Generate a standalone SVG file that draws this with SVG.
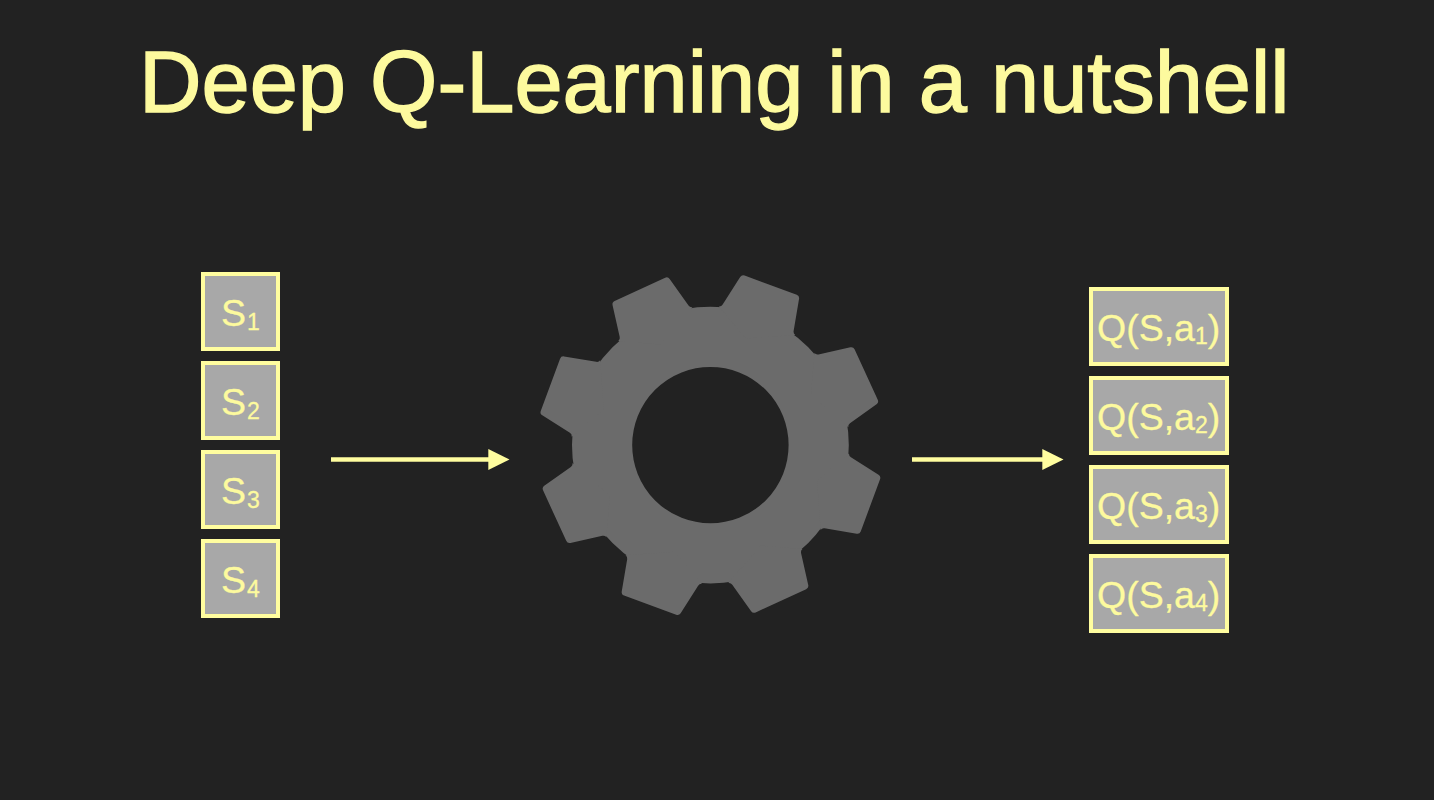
<svg xmlns="http://www.w3.org/2000/svg" width="1434" height="800" viewBox="0 0 1434 800">
<style>
text{font-family:"Liberation Sans",Arial,sans-serif;fill:#fdfa9e}
.title{font-size:86.6px;stroke:#fdfa9e;stroke-width:1.4}
.lab{font-size:37.5px;stroke:#fdfa9e;stroke-width:.3}
.sub{font-size:23px}
.box{fill:#a8a8a8;stroke:#fffd9f;stroke-width:4}
.ln{stroke:#fffd9f;stroke-width:4.5;fill:none}
.hd{fill:#fffd9f}
.g{fill:#6b6b6b}
</style>
<defs><path id="tooth" class="g" d="M-91.5 -103.4Q-89.6 -105 -90.15 -107.4L-97.25 -139.1Q-97.9 -142.05 -95.2 -143.3L-44.98 -166.35Q-42.25 -167.6 -40.5 -165.15L-21.75 -138.75Q-20.3 -136.7 -17.83 -137.07L-50 -100Z"/></defs>
<rect width="1434" height="800" fill="#222222"/>
<text id="title" class="title" x="139" y="112">Deep Q-Learning in a nutshell</text>
<g id="s1"><rect class="box" x="203" y="274" width="75" height="75"/><text class="lab" x="221" y="326">S<tspan class="sub" dx="1" dy="4">1</tspan></text></g>
<g id="s2"><rect class="box" x="203" y="363" width="75" height="75"/><text class="lab" x="221" y="415">S<tspan class="sub" dx="1" dy="4">2</tspan></text></g>
<g id="s3"><rect class="box" x="203" y="452" width="75" height="75"/><text class="lab" x="221" y="504">S<tspan class="sub" dx="1" dy="4">3</tspan></text></g>
<g id="s4"><rect class="box" x="203" y="541" width="75" height="75"/><text class="lab" x="221" y="593">S<tspan class="sub" dx="1" dy="4">4</tspan></text></g>
<g id="gear" transform="translate(710.4 445.1)">
<circle cx="0" cy="0" r="108.3" fill="none" stroke="#6b6b6b" stroke-width="60.2"/>
<g transform="scale(1.006)">
<use href="#tooth"/>
<use href="#tooth" transform="rotate(45)"/>
<use href="#tooth" transform="rotate(90)"/>
<use href="#tooth" transform="rotate(135)"/>
<use href="#tooth" transform="rotate(180)"/>
<use href="#tooth" transform="rotate(225)"/>
<use href="#tooth" transform="rotate(270)"/>
<use href="#tooth" transform="rotate(315)"/>
</g>
</g>
<g id="q1"><rect class="box" x="1091" y="289" width="136" height="75"/><text class="lab" x="1097" y="341">Q(S,a<tspan class="sub" dy="3">1</tspan><tspan dy="-3">)</tspan></text></g>
<g id="q2"><rect class="box" x="1091" y="378" width="136" height="75"/><text class="lab" x="1097" y="430">Q(S,a<tspan class="sub" dy="3">2</tspan><tspan dy="-3">)</tspan></text></g>
<g id="q3"><rect class="box" x="1091" y="467" width="136" height="75"/><text class="lab" x="1097" y="519">Q(S,a<tspan class="sub" dy="3">3</tspan><tspan dy="-3">)</tspan></text></g>
<g id="q4"><rect class="box" x="1091" y="556" width="136" height="75"/><text class="lab" x="1097" y="608">Q(S,a<tspan class="sub" dy="3">4</tspan><tspan dy="-3">)</tspan></text></g>
<g id="connectors">
<line class="ln" x1="331" y1="459.4" x2="489" y2="459.4"/><path class="hd" d="M488.3 449L509.5 459.4L488.3 470Z"/>
<line class="ln" x1="912" y1="459.4" x2="1043" y2="459.4"/><path class="hd" d="M1042.3 449L1063.5 459.4L1042.3 470Z"/>
</g>
</svg>
